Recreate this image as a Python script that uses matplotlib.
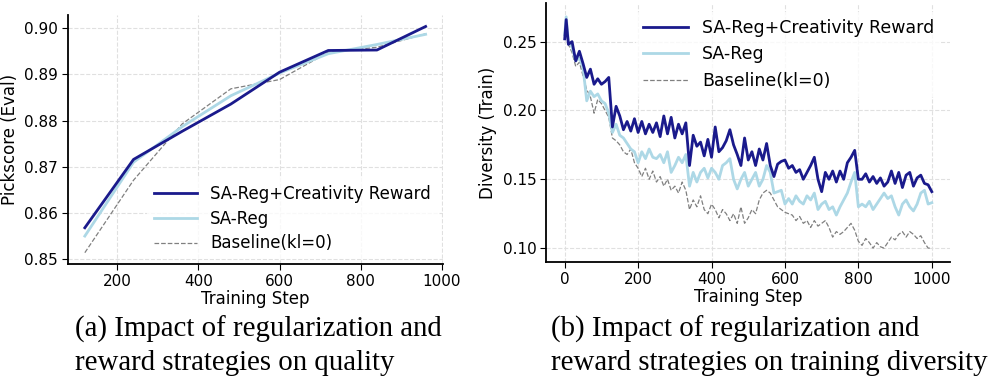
import matplotlib
matplotlib.use('Agg')
import matplotlib.pyplot as plt

# (a) pickscore on eval set
eval_steps = [120, 240, 360, 480, 600, 720, 840, 960]
eval_creativity = [0.8568, 0.8716, 0.8777, 0.8836, 0.8905, 0.8952, 0.8953, 0.9004]
eval_sareg = [0.8550, 0.8710, 0.8787, 0.8854, 0.8903, 0.8945, 0.8965, 0.8987]
eval_baseline = [0.8514, 0.8671, 0.8793, 0.8869, 0.8889, 0.8948, 0.8959, 0.8988]

# (b) diversity during training
train_steps = [0, 4] + list(range(10, 1001, 10))
train_creativity = [
    0.252, 0.266,
    0.248, 0.250, 0.236, 0.243, 0.234, 0.224, 0.230, 0.219, 0.223, 0.219,
    0.221, 0.224, 0.188, 0.203, 0.196, 0.186, 0.192, 0.185, 0.194, 0.184,
    0.192, 0.183, 0.190, 0.184, 0.191, 0.181, 0.196, 0.183, 0.195, 0.180,
    0.190, 0.183, 0.191, 0.160, 0.182, 0.174, 0.177, 0.167, 0.179, 0.166,
    0.188, 0.170, 0.173, 0.178, 0.186, 0.175, 0.168, 0.160, 0.180, 0.164,
    0.170, 0.160, 0.172, 0.164, 0.176, 0.160, 0.152, 0.161, 0.163, 0.164,
    0.158, 0.160, 0.155, 0.157, 0.150, 0.155, 0.160, 0.166, 0.150, 0.141,
    0.155, 0.150, 0.156, 0.148, 0.156, 0.150, 0.162, 0.166, 0.171, 0.150,
    0.150, 0.154, 0.148, 0.152, 0.147, 0.151, 0.145, 0.148, 0.156, 0.147,
    0.155, 0.144, 0.153, 0.155, 0.145, 0.151, 0.153, 0.147, 0.146, 0.141,
]
train_sareg = [
    0.255, 0.268,
    0.250, 0.246, 0.236, 0.238, 0.231, 0.207, 0.214, 0.210, 0.212, 0.207,
    0.205, 0.198, 0.184, 0.190, 0.182, 0.180, 0.176, 0.172, 0.170, 0.162,
    0.170, 0.165, 0.172, 0.166, 0.165, 0.168, 0.162, 0.170, 0.155, 0.160,
    0.166, 0.162, 0.168, 0.145, 0.155, 0.148, 0.155, 0.158, 0.151, 0.158,
    0.155, 0.150, 0.160, 0.162, 0.165, 0.150, 0.143, 0.150, 0.155, 0.145,
    0.150, 0.155, 0.145, 0.150, 0.160, 0.155, 0.140, 0.141, 0.142, 0.132,
    0.136, 0.132, 0.138, 0.134, 0.132, 0.138, 0.135, 0.140, 0.128, 0.132,
    0.134, 0.128, 0.130, 0.124, 0.130, 0.135, 0.140, 0.148, 0.155, 0.130,
    0.132, 0.130, 0.134, 0.128, 0.132, 0.136, 0.140, 0.136, 0.138, 0.130,
    0.124, 0.132, 0.135, 0.130, 0.127, 0.132, 0.140, 0.142, 0.132, 0.133,
]
train_baseline = [
    0.252, 0.260,
    0.248, 0.242, 0.232, 0.235, 0.225, 0.215, 0.210, 0.198, 0.208, 0.205,
    0.200, 0.195, 0.180, 0.178, 0.175, 0.170, 0.168, 0.172, 0.162, 0.158,
    0.152, 0.158, 0.150, 0.156, 0.148, 0.152, 0.145, 0.150, 0.142, 0.145,
    0.140, 0.148, 0.142, 0.128, 0.135, 0.130, 0.138, 0.128, 0.125, 0.132,
    0.128, 0.122, 0.128, 0.125, 0.120, 0.125, 0.118, 0.130, 0.118, 0.122,
    0.128, 0.125, 0.135, 0.140, 0.142, 0.140, 0.135, 0.130, 0.128, 0.126,
    0.125, 0.124, 0.120, 0.123, 0.118, 0.120, 0.115, 0.120, 0.116, 0.118,
    0.120, 0.115, 0.108, 0.112, 0.110, 0.112, 0.115, 0.118, 0.113, 0.105,
    0.102, 0.107, 0.104, 0.100, 0.104, 0.101, 0.100, 0.104, 0.108, 0.106,
    0.110, 0.112, 0.108, 0.112, 0.110, 0.107, 0.109, 0.104, 0.100, 0.100,
]

labels = ['SA-Reg+Creativity Reward', 'SA-Reg', 'Baseline(kl=0)']
dark = '#1a1a8c'
light = '#add8e6'
grey = 'grey'

plt.rcParams['font.size'] = 12

fig = plt.figure(figsize=(9.97, 3.84), dpi=100)
ax1 = fig.add_axes([0.068, 0.3125, 0.376, 0.648])
ax2 = fig.add_axes([0.548, 0.318, 0.405, 0.674])


def style(ax):
    ax.grid(True, linestyle='--', color='#e0e0e0', linewidth=0.8)
    ax.set_axisbelow(True)
    ax.spines['top'].set_visible(False)
    ax.spines['right'].set_visible(False)
    ax.spines['left'].set_linewidth(1.3)
    ax.spines['bottom'].set_linewidth(1.3)
    ax.tick_params(length=4, pad=3, labelsize=11)


# quality
ax1.plot(eval_steps, eval_creativity, color=dark, linewidth=2, label=labels[0], zorder=3)
ax1.plot(eval_steps, eval_sareg, color=light, linewidth=2, label=labels[1], zorder=2)
ax1.plot(eval_steps, eval_baseline, color=grey, linewidth=0.9, linestyle='--', label=labels[2], zorder=1)
ax1.set_xticks([200, 400, 600, 800, 1000])
ax1.set_yticks([0.85, 0.86, 0.87, 0.88, 0.89, 0.90])
ax1.set_yticklabels(['0.85', '0.86', '0.87', '0.88', '0.89', '0.90'])
ax1.set_xlabel('Training Step', labelpad=1)
ax1.set_ylabel('Pickscore (Eval)', labelpad=4)
style(ax1)
ax1.legend(loc='lower right', handlelength=2.6, edgecolor='none', framealpha=0.8,
           labelspacing=0.4, borderaxespad=0.3)

# diversity
ax2.plot(train_steps, train_creativity, color=dark, linewidth=2, label=labels[0], zorder=3)
ax2.plot(train_steps, train_sareg, color=light, linewidth=2, label=labels[1], zorder=2)
ax2.plot(train_steps, train_baseline, color=grey, linewidth=0.9, linestyle='--', label=labels[2], zorder=1)
ax2.set_ylim(0.090, 0.278)
ax2.set_xticks([0, 200, 400, 600, 800, 1000])
ax2.set_yticks([0.10, 0.15, 0.20, 0.25])
ax2.set_yticklabels(['0.10', '0.15', '0.20', '0.25'])
ax2.set_xlabel('Training Step', labelpad=1)
ax2.set_ylabel('Diversity (Train)', labelpad=4)
style(ax2)
ax2.legend(loc='upper right', handlelength=2.6, edgecolor='none', framealpha=0.8,
           labelspacing=0.5, borderaxespad=0.5, fontsize=12.5)

# captions
cap = dict(fontsize=20.8, family='Liberation Serif', ha='left', va='center')
fig.text(75 / 997, 1 - 329 / 384, '(a) Impact of regularization and', **cap)
fig.text(75 / 997, 1 - 363 / 384, 'reward strategies on quality', **cap)
fig.text(551 / 997, 1 - 329 / 384, '(b) Impact of regularization and', **cap)
fig.text(551 / 997, 1 - 363 / 384, 'reward strategies on training diversity', **cap)

fig.savefig('out.png', dpi=100)
